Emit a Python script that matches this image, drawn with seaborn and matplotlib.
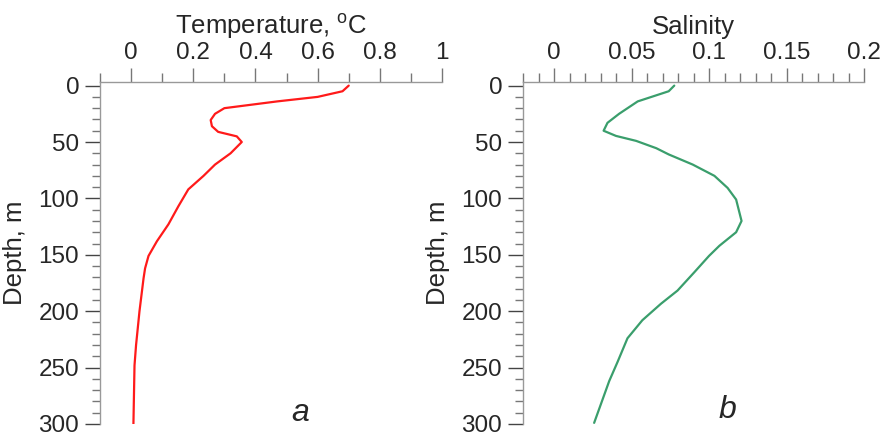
import matplotlib
matplotlib.use("Agg")
import matplotlib.pyplot as plt
from matplotlib.ticker import MultipleLocator
import seaborn as sns
import pandas as pd

# temperature profile (panel a)
temp_depth = [0, 5, 10, 14, 20, 25, 30.5, 36, 41, 45, 50, 60, 70, 80, 92, 107, 123,
              138, 151, 162, 171, 200, 230, 248, 300]
temp_vals = [0.70, 0.68, 0.60, 0.47, 0.30, 0.27, 0.256, 0.26, 0.28, 0.34, 0.356, 0.32,
             0.27, 0.233, 0.184, 0.152, 0.12, 0.083, 0.056, 0.045, 0.040, 0.027, 0.016,
             0.011, 0.0075]

# salinity profile (panel b)
sal_depth = [0, 5, 14, 25, 33, 40, 44.6, 49, 55.5, 61, 70, 80, 90.7, 101, 120, 130, 142,
             151, 165.5, 181.7, 193.4, 208, 224, 245, 262, 299]
sal_vals = [0.0776, 0.074, 0.054, 0.042, 0.0345, 0.032, 0.040, 0.053, 0.066, 0.074,
            0.0895, 0.1035, 0.112, 0.1175, 0.121, 0.1175, 0.1067, 0.100, 0.0905, 0.0797,
            0.069, 0.057, 0.0474, 0.041, 0.0356, 0.0259]

sns.set_style("white")
plt.rcParams['font.family'] = ['Liberation Sans', 'DejaVu Sans']
plt.rcParams['mathtext.fontset'] = 'custom'
plt.rcParams['mathtext.rm'] = 'Liberation Sans'

W, H = 885, 437
FS = 18.5     # titles / axis labels
TS = 17.5     # tick labels
fig = plt.figure(figsize=(W / 100, H / 100), dpi=100)
ax1 = fig.add_axes([100 / W, (H - 424) / H, 342 / W, 342 / H])
ax2 = fig.add_axes([523 / W, (H - 424) / H, 341 / W, 342 / H])

df_t = pd.DataFrame({'depth': temp_depth, 'value': temp_vals})
df_s = pd.DataFrame({'depth': sal_depth, 'value': sal_vals})

sns.lineplot(data=df_t, x='value', y='depth', sort=False, estimator=None,
             color='#ff1a1a', lw=1.6, ax=ax1)
sns.lineplot(data=df_s, x='value', y='depth', sort=False, estimator=None,
             color='#3a9e6c', lw=1.6, ax=ax2)

setups = [
    (ax1, (-0.1, 1.0), 0.2, 0.1, r'Temperature, $^{\mathrm{o}}$C', ['0', '0.2', '0.4', '0.6', '0.8', '1']),
    (ax2, (-0.02, 0.2), 0.05, 0.01, 'Salinity', ['0', '0.05', '0.1', '0.15', '0.2']),
]
for ax, xlim, major, minor, title, labels in setups:
    ax.set_xlim(*xlim)
    ax.set_ylim(300, -3.2)
    ax.xaxis.set_ticks_position('top')
    ax.xaxis.set_label_position('top')
    ticks = [major * i for i in range(len(labels))]
    ax.set_xticks(ticks)
    ax.set_xticklabels(labels)
    ax.xaxis.set_minor_locator(MultipleLocator(minor))
    ax.yaxis.set_major_locator(MultipleLocator(50))
    ax.yaxis.set_minor_locator(MultipleLocator(10))
    for s in ['bottom', 'right']:
        ax.spines[s].set_visible(False)
    for s in ['top', 'left']:
        ax.spines[s].set_color('#999999')
        ax.spines[s].set_linewidth(1.0)
    ax.tick_params(axis='x', which='major', length=10, width=1, color='#777777',
                   labelsize=TS, pad=3, top=True, bottom=False, direction='out')
    ax.tick_params(axis='x', which='minor', length=6.5, width=1, color='#777777',
                   top=True, bottom=False, direction='out')
    ax.tick_params(axis='y', which='major', length=11, width=1, color='#444444',
                   labelsize=TS, pad=4, left=True, direction='out')
    ax.tick_params(axis='y', which='minor', length=6, width=1, color='#777777',
                   left=True, direction='out')
    ax.set_xlabel('')
    ax.set_title(title, fontsize=FS, pad=6)
    ax.set_ylabel('Depth, m', fontsize=FS, labelpad=8)
    ax.grid(False)

ax1.text(0.585, 0.008, 'a', transform=ax1.transAxes, fontsize=23, style='italic',
         ha='center', va='baseline')
ax2.text(0.60, 0.017, 'b', transform=ax2.transAxes, fontsize=23, style='italic',
         ha='center', va='baseline')

fig.savefig('out.png', dpi=100)
